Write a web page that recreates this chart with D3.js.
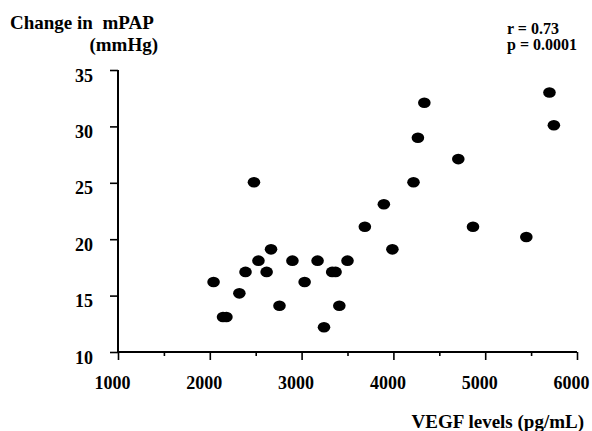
<!DOCTYPE html>
<html>
<head>
<meta charset="utf-8">
<script src="https://cdn.jsdelivr.net/npm/d3@7"></script>
<style>
  body { margin: 0; background: #fff; }
  text { font-family: "Liberation Serif", "Times New Roman", serif; font-weight: bold; fill: #000; }
</style>
</head>
<body>
<div id="scatter"></div>
<script>
// data
var vegf = [2041, 2144, 2181, 2322, 2389, 2481, 2530, 2619, 2667, 2759,
            2900, 3033, 3174, 3244, 3333, 3370, 3411, 3500, 3689, 3896,
            3989, 4219, 4267, 4337, 4707, 4867, 5448, 5700, 5748];
var mpap = [16.2, 13.1, 13.1, 15.2, 17.1, 25.05, 18.1, 17.1, 19.1, 14.1,
            18.1, 16.2, 18.1, 12.2, 17.1, 17.1, 14.1, 18.1, 21.1, 23.1,
            19.1, 25.05, 29.0, 32.1, 27.1, 21.1, 20.2, 33.0, 30.1];
var xTicks = [1000, 2000, 3000, 4000, 5000, 6000];
var yTicks = [10, 15, 20, 25, 30, 35];

var points = vegf.map(function(v, i) { return {vegf: v, mpap: mpap[i]}; });

// svg area
var svgWidth = 592;
var svgHeight = 431;

var svg = d3.select("#scatter")
            .append("svg")
            .attr("width", svgWidth)
            .attr("height", svgHeight);

// scales
var x = d3.scaleLinear().domain([1000, 6000]).range([118, 577]);
var y = d3.scaleLinear().domain([10, 35]).range([352, 70]);

// x axis, ticks every 500, labels on the thousands
var xAxis = d3.axisBottom(x)
    .tickValues(d3.range(1000, 6001, 500))
    .tickSizeOuter(0)
    .tickSize(8)
    .tickFormat(function(d) { return xTicks.indexOf(d) >= 0 ? d : ""; });

var gx = svg.append("g")
    .attr("transform", "translate(0, " + y(10) + ")")
    .call(xAxis);

gx.select(".domain").remove();
gx.selectAll(".tick line")
    .attr("stroke", "#000")
    .attr("stroke-width", 1.6)
    .attr("y2", function(d) { return d % 1000 === 0 ? 8 : 4; });
gx.selectAll(".tick text")
    .attr("y", 0)
    .attr("dy", 0)
    .attr("transform", "translate(-6, 37)")
    .style("font-size", "18px");

// y axis
var yAxis = d3.axisLeft(y)
    .tickValues(yTicks)
    .tickSizeOuter(0)
    .tickSize(8);

var gy = svg.append("g")
    .attr("transform", "translate(" + x(1000) + ", 0)")
    .call(yAxis);

gy.select(".domain").remove();
gy.selectAll(".tick line")
    .attr("stroke", "#000")
    .attr("stroke-width", 1.6);
gy.selectAll(".tick text")
    .attr("x", -25)
    .attr("dy", "0.62em")
    .style("font-size", "18px");

// axis lines
svg.append("line")
    .attr("x1", x(1000)).attr("x2", x(6000))
    .attr("y1", y(10)).attr("y2", y(10))
    .attr("stroke", "#000").attr("stroke-width", 2.2);
svg.append("line")
    .attr("x1", x(1000)).attr("x2", x(1000))
    .attr("y1", y(35)).attr("y2", y(10))
    .attr("stroke", "#000").attr("stroke-width", 2);

// the dots
svg.selectAll(".dot")
    .data(points)
    .enter()
    .append("ellipse")
    .attr("class", "dot")
    .attr("cx", function(d) { return x(d.vegf); })
    .attr("cy", function(d) { return y(d.mpap); })
    .attr("rx", 6.3)
    .attr("ry", 5.3)
    .attr("fill", "#000");

// y-axis title
svg.append("text")
    .attr("x", 10)
    .attr("y", 29)
    .style("font-size", "19px")
    .attr("xml:space", "preserve")
    .text("Change in  mPAP");

svg.append("text")
    .attr("x", 158)
    .attr("y", 51)
    .style("text-anchor", "end")
    .style("font-size", "19px")
    .text("(mmHg)");

// stats
svg.append("text")
    .attr("x", 507)
    .attr("y", 34)
    .style("font-size", "16px")
    .text("r = 0.73");

svg.append("text")
    .attr("x", 507)
    .attr("y", 50)
    .style("font-size", "16px")
    .text("p = 0.0001");

// x-axis title
svg.append("text")
    .attr("x", 584)
    .attr("y", 428)
    .style("text-anchor", "end")
    .style("font-size", "19px")
    .text("VEGF levels (pg/mL)");
</script>
</body>
</html>
